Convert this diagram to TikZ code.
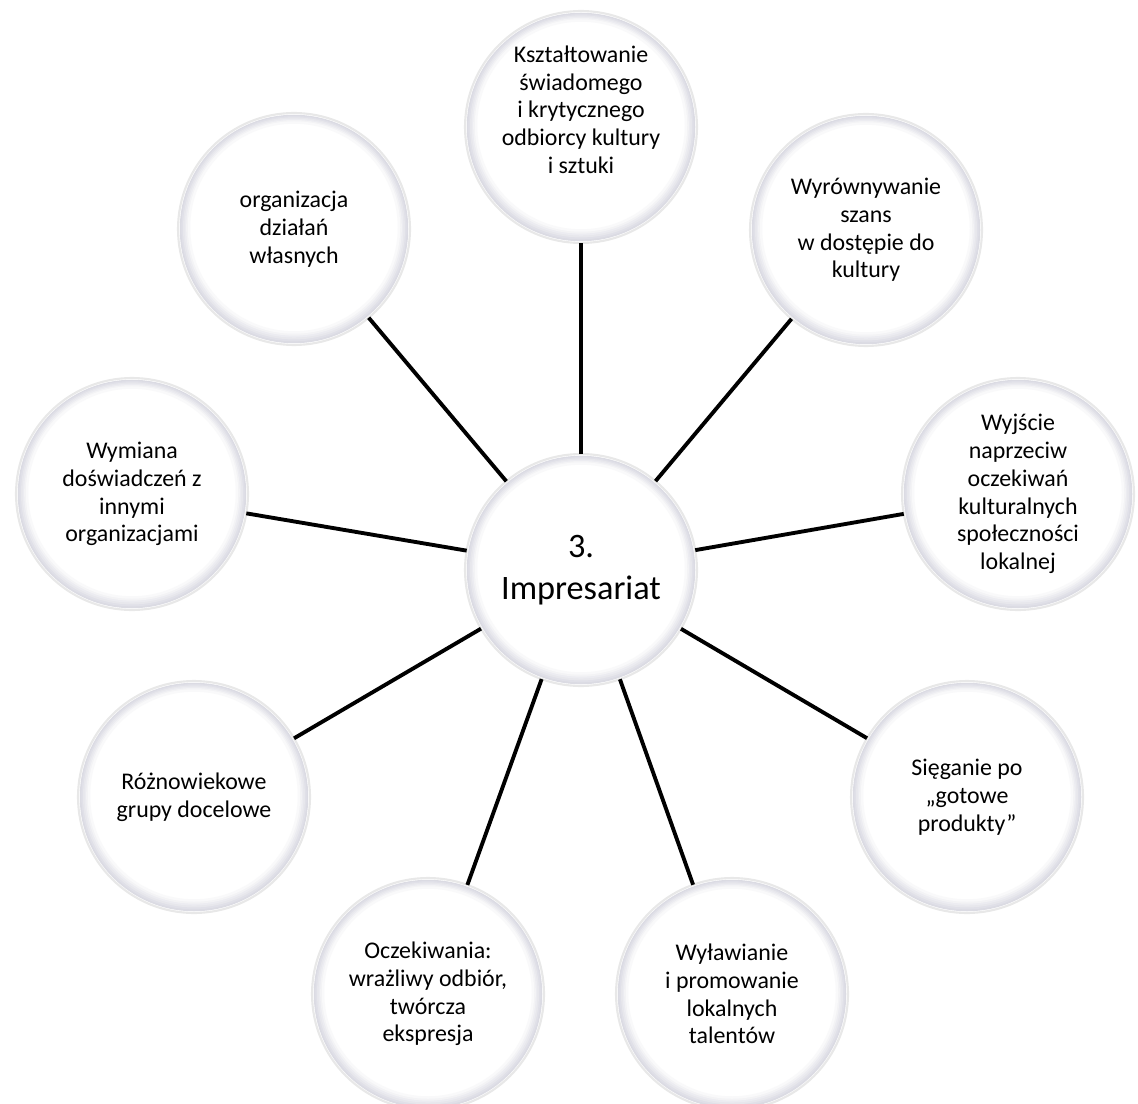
\documentclass[tikz,border=0pt]{standalone}
\usepackage{fontspec}
\setmainfont{Carlito}
\definecolor{bubbleedge}{RGB}{212,212,222}
\newcommand*{\bubbleSize}{4.64cm}
\newcommand\Bubble[4][]{
	\node [bubble, #1] (#2) at (#3) {#4};
}

\begin{document}
\begin{tikzpicture}[x=0.02cm, y=-0.02cm,
	bubble/.style={circle, minimum size=\bubbleSize, inner sep=0pt, outer sep=0pt, fill=white, draw=black!9, line width=1.2pt, align=center, font=\fontsize{13.6}{15.8}\selectfont},
	spoke/.style={line width=2.2pt, black}]
	\useasboundingbox (0,0) rectangle (1138,1104);
	\Bubble[font=\fontsize{19.5}{24}\selectfont]{centre}{581,570}{3.\\Impresariat}
	\Bubble{odbiorca}{581,127}{Kształtowanie\\świadomego\\i krytycznego\\odbiorcy kultury\\i sztuki\\[0.6ex]}
	\Bubble{dostep}{866,230}{Wyrównywanie\\szans\\w dostępie do\\kultury}
	\Bubble{lokalna}{1018,494}{Wyjście\\naprzeciw\\oczekiwań\\kulturalnych\\społeczności\\lokalnej}
	\Bubble{produkty}{967,797}{Sięganie po\\„gotowe\\produkty”}
	\Bubble{talenty}{732,994}{Wyławianie\\i promowanie\\lokalnych\\talentów}
	\Bubble{oczekiwania}{428,994}{Oczekiwania:\\wrażliwy odbiór,\\twórcza\\ekspresja}
	\Bubble{grupy}{194,797}{Różnowiekowe\\grupy docelowe}
	\Bubble{wymiana}{132,494}{Wymiana\\doświadczeń z\\innymi\\organizacjami}
	\Bubble{wlasne}{294,229}{organizacja\\działań\\własnych}
	% inner rim of each bubble
	\foreach \n in {centre,odbiorca,dostep,lokalna,produkty,talenty,oczekiwania,grupy,wymiana,wlasne}
	{
		\foreach \k [evaluate=\k as \pct using int(85-14*\k)] in {0,1,...,5}
		{
			\draw [bubbleedge!\pct!white, line width=0.05cm] (\n.center) ++(0,-0.3*\k) circle ({113-1.6*\k});
		}
	}
	\foreach \n in {odbiorca,dostep,lokalna,produkty,talenty,oczekiwania,grupy,wymiana,wlasne}
	{
		\draw [spoke] (centre) -- (\n);
	}
\end{tikzpicture}
\end{document}
